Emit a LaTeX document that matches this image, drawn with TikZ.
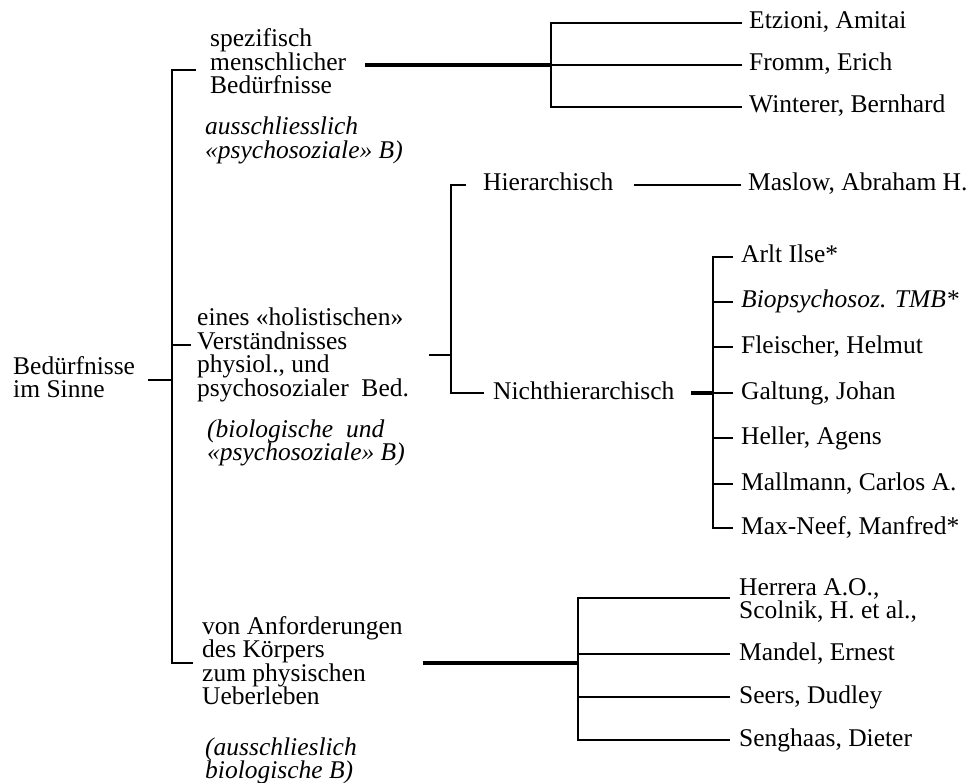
\documentclass[tikz,border=0pt]{standalone}
\usepackage{fontspec}
\setmainfont{Liberation Serif}
\newcommand\mainfs{\fontsize{25.5}{23.5}\selectfont}
% stacked lines whose baseline is that of the first line
\newcommand\stack[1]{\vtop{\baselineskip=23.5pt\halign{##\hfil\cr#1\crcr}}}
\begin{document}
\begin{tikzpicture}[x=1pt,y=-1pt,
  txt/.style={inner sep=0pt, anchor=base west, font=\mainfs},
  itxt/.style={txt, font=\mainfs\itshape},
  ln/.style={line width=2.8pt},
  lnb/.style={line width=3.3pt},
]
\useasboundingbox (0,0) rectangle (971,783);

% ---- text blocks ----
\node[txt] (root) at (13,374) {\stack{Bedürfnisse\cr im Sinne}};

\node[txt] (b1) at (210,47) {\stack{spezifisch\cr menschlicher\cr Bedürfnisse}};
\node[itxt] (b1i) at (205,135) {\stack{ausschliesslich\cr «psychosoziale» B)}};

\node[txt] (b2) at (197,326) {\stack{eines «holistischen»\cr Verständnisses\cr physiol., und\cr psychosozialer~~Bed.}};
\node[itxt] (b2i) at (207,437) {\stack{(biologische~~und\cr «psychosoziale» B)}};

\node[txt] (b3) at (202,634) {\stack{von Anforderungen\cr des Körpers\cr zum physischen\cr Ueberleben}};
\node[itxt] (b3i) at (205,755) {\stack{(ausschlieslich\cr biologische B)}};

\node[txt] (hier) at (483,191) {Hierarchisch};
\node[txt] (nhier) at (493,399) {Nichthierarchisch};

% leaves, first group
\node[txt] (etz) at (749,29) {Etzioni, Amitai};
\node[txt] (fro) at (749,71) {Fromm, Erich};
\node[txt] (win) at (749,113) {Winterer, Bernhard};
% hierarchical
\node[txt] (mas) at (748,191) {Maslow, Abraham H.};
% non-hierarchical
\node[txt] (arl) at (741,263) {Arlt Ilse*};
\node[itxt] (bio) at (741,308) {Biopsychosoz. TMB*};
\node[txt] (fle) at (741,353) {Fleischer, Helmut};
\node[txt] (gal) at (741,399) {Galtung, Johan};
\node[txt] (hel) at (741,444) {Heller, Agens};
\node[txt] (mal) at (741,490) {Mallmann, Carlos A.};
\node[txt] (max) at (741,534) {Max-Neef, Manfred*};
% physical survival
\node[txt] (her) at (739,595) {\stack{Herrera A.O.,\cr Scolnik, H. et al.,}};
\node[txt] (man) at (739,660) {Mandel, Ernest};
\node[txt] (see) at (739,703) {Seers, Dudley};
\node[txt] (sen) at (739,746) {Senghaas, Dieter};

% ---- bracket points ----
\coordinate (r0) at (148,380);
\coordinate (r1) at (172,380);
\coordinate (tA) at (196,70);
\coordinate (tB) at (172,70);
\coordinate (tC) at (172,663);
\coordinate (tD) at (193,663);
\coordinate (tM0) at (172,345);
\coordinate (tM1) at (191,345);

\coordinate (g1s) at (365,65);
\coordinate (g1m) at (551,65);
\coordinate (g1t) at (551,23);
\coordinate (g1b) at (551,107);
\coordinate (g1te) at (742,23);
\coordinate (g1me) at (742,65);
\coordinate (g1be) at (742,107);

\coordinate (h0) at (429,355);
\coordinate (h1) at (451,355);
\coordinate (hT) at (451,185);
\coordinate (hB) at (451,393);
\coordinate (hTe) at (466,185);
\coordinate (hBe) at (484,393);
\coordinate (m0) at (634,185);
\coordinate (m1) at (741,185);

\coordinate (n0) at (691,393);
\coordinate (nV) at (713,393);
\coordinate (n1) at (733,393);
\coordinate (nT) at (713,257);
\coordinate (nB) at (713,528);

\coordinate (p0) at (423,663);
\coordinate (pV) at (578,663);
\coordinate (pT) at (578,598);
\coordinate (pB) at (578,740);

% ---- connectors ----
\draw[ln] (r0) -- (r1);
\draw[ln] (tA) -- (tB) -- (tC) -- (tD);
\draw[ln] (tM0) -- (tM1);

\draw[lnb] (g1s) -- (g1m);
\draw[ln] (g1te) -- (g1t) -- (g1b) -- (g1be);
\draw[ln] (g1m) -- (g1me);

\draw[ln] (h0) -- (h1);
\draw[ln] (hTe) -- (hT) -- (hB) -- (hBe);
\draw[ln] (m0) -- (m1);

\draw[lnb] (n0) -- (nV);
\draw[ln] (nV) -- (n1);
\draw[ln] (733,257) -- (nT) -- (nB) -- (733,528);
\foreach \yy in {302,347,438,484} \draw[ln] (713,\yy) -- (733,\yy);

\draw[lnb] (p0) -- (pV);
\draw[ln] (730,598) -- (pT) -- (pB) -- (730,740);
\foreach \yy in {654,697} \draw[ln] (578,\yy) -- (730,\yy);
\end{tikzpicture}
\end{document}
